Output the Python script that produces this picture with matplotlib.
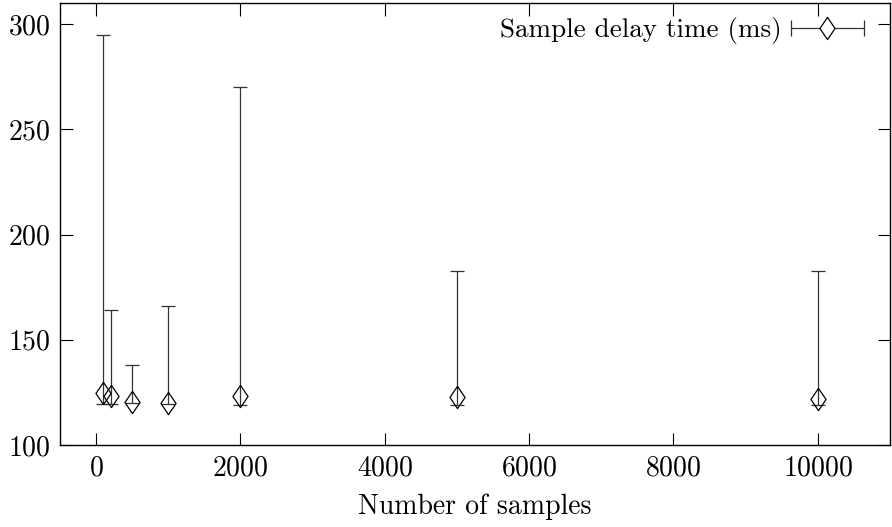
import matplotlib
matplotlib.use("Agg")
import matplotlib.pyplot as plt
from matplotlib.path import Path
from matplotlib.lines import Line2D
from matplotlib.legend_handler import HandlerLine2D, HandlerTuple

plt.rcParams['font.family'] = 'cmr10'
plt.rcParams['mathtext.fontset'] = 'cm'
plt.rcParams['axes.unicode_minus'] = False
plt.rcParams['axes.formatter.use_mathtext'] = True

# data
samples = [100, 200, 500, 1000, 2000, 5000, 10000]
delay = [124.7, 123.4, 120.2, 120.1, 123.3, 122.9, 121.9]
low = [119.5, 119.5, 119.8, 119.5, 119.0, 119.0, 119.0]
high = [294.8, 164.3, 138.0, 165.9, 270.0, 182.8, 182.8]

yerr = [[d - l for d, l in zip(delay, low)], [h - d for d, h in zip(delay, high)]]

# tall open diamond like gnuplot's
diamond = Path([(0, 1), (0.68, 0), (0, -1), (-0.68, 0), (0, 1)],
               [Path.MOVETO, Path.LINETO, Path.LINETO, Path.LINETO, Path.CLOSEPOLY])

fig = plt.figure(figsize=(8.92, 5.27), dpi=100)
ax = fig.add_axes([60/892, 1-445/527, 830/892, 442/527])

ax.errorbar(samples, delay, yerr=yerr, fmt='none', ecolor='#333333',
            elinewidth=0.9, capsize=4.8, capthick=0.9)
ax.plot(samples, delay, linestyle='none', marker=diamond, markersize=16,
        markerfacecolor='none', markeredgecolor='black', markeredgewidth=0.9)

ax.set_xlim(-500, 11000)
ax.set_ylim(100, 310)
ax.set_xticks([0, 2000, 4000, 6000, 8000, 10000])
ax.set_yticks([100, 150, 200, 250, 300])
ax.tick_params(direction='in', length=9, width=0.8, top=True, right=True,
               labelsize=20, pad=7)
ax.set_xlabel('Number of samples', fontsize=20, labelpad=9)
for s in ax.spines.values():
    s.set_linewidth(1.0)

# legend sample: horizontal bar with end caps and a diamond on top
bar_h = Line2D([], [], color='#333333', lw=0.9, marker='|', markersize=12, markeredgewidth=0.9)
dia_h = Line2D([], [], linestyle='none', marker=diamond, markersize=16,
               markerfacecolor='white', markeredgecolor='black', markeredgewidth=0.9)
ax.legend([(bar_h, dia_h)], ['Sample delay time (ms)'],
          handler_map={bar_h: HandlerLine2D(numpoints=2), dia_h: HandlerLine2D(numpoints=1),
                       tuple: HandlerTuple(ndivide=1)},
          loc='upper right', bbox_to_anchor=(1 - 10/830, 1 - 6/442),
          frameon=False, markerfirst=False, fontsize=19.5,
          handlelength=3.3, borderaxespad=0.0, borderpad=0.3, handletextpad=0.05)

fig.savefig('out.png', dpi=100)
